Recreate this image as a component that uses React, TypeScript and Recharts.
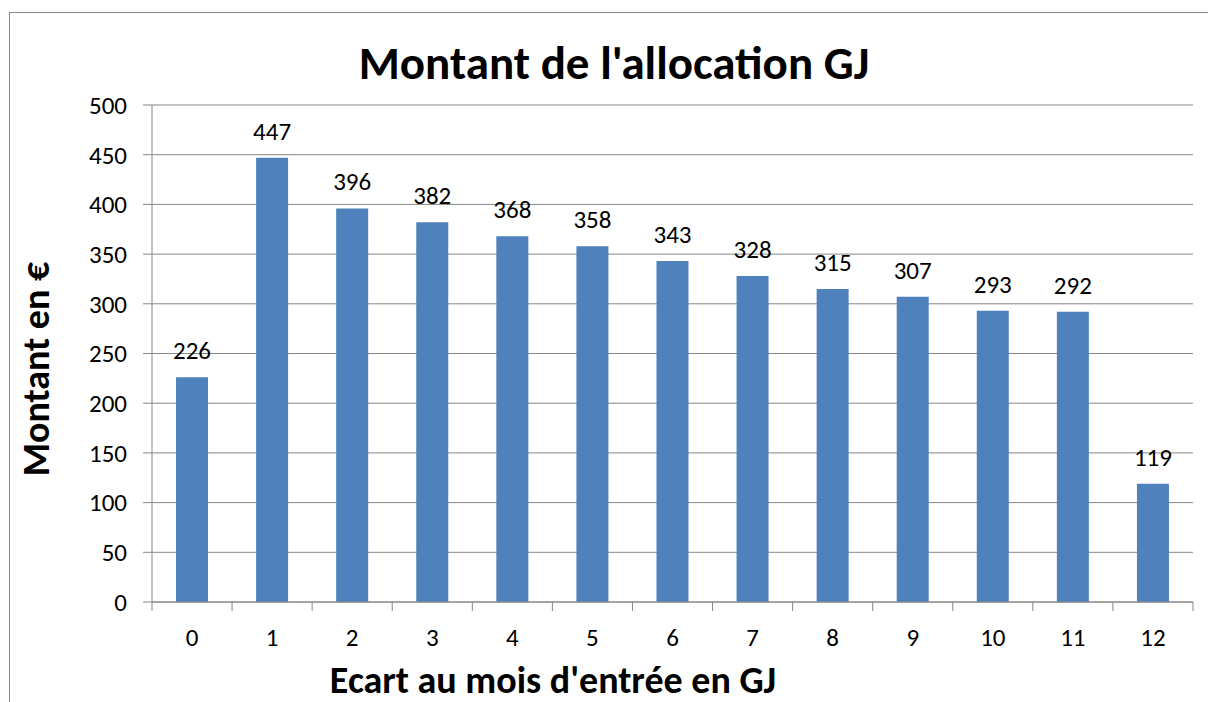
import React from "react"
import { Bar, BarChart, CartesianGrid, LabelList, XAxis, YAxis } from "recharts"

const months = ["0", "1", "2", "3", "4", "5", "6", "7", "8", "9", "10", "11", "12"]
const amounts = [226, 447, 396, 382, 368, 358, 343, 328, 315, 307, 293, 292, 119]
const yTicks = [0, 50, 100, 150, 200, 250, 300, 350, 400, 450, 500]

const data = months.map((m, i) => ({ month: m, amount: amounts[i] }))

const FONT = "Carlito, Lato, 'Open Sans', sans-serif"
const GREY = "#868686"
const BLUE = "#4F81BD"
const W = 1208
const H = 702
const MARGIN = { top: 105, right: 15, bottom: 0, left: 92 }
const Y_AXIS_W = 60
const X_TICK_MARGIN = 26

// label plus Excel-style tick marks between categories
const CategoryTick = (props: any) => {
  const { x, y, payload, index, width, visibleTicksCount } = props
  const plotW = typeof width === "number" && width > 0 ? width : W - MARGIN.left - MARGIN.right - Y_AXIS_W
  const count = visibleTicksCount || months.length
  const half = plotW / count / 2
  const axisY = y - X_TICK_MARGIN
  return (
    <g>
      <line x1={x - half} x2={x - half} y1={axisY} y2={axisY + 9} stroke={GREY} strokeWidth={1} />
      {index === count - 1 && (
        <line x1={x + half} x2={x + half} y1={axisY} y2={axisY + 9} stroke={GREY} strokeWidth={1} />
      )}
      <text x={x} y={y} dy="0.71em" textAnchor="middle" fill="#000" fontSize={25} fontFamily={FONT}>
        {payload.value}
      </text>
    </g>
  )
}

export default function App() {
  return (
    <div
      style={{
        position: "absolute",
        left: 0,
        top: 0,
        width: W,
        height: H,
        background: "#fff",
        fontFamily: FONT,
        overflow: "hidden",
      }}
    >
      <div
        style={{
          position: "absolute",
          left: 9,
          top: 12,
          width: 1300,
          height: 800,
          borderLeft: `1px solid ${GREY}`,
          borderTop: `1px solid ${GREY}`,
        }}
      />
      <BarChart
        width={W}
        height={H}
        data={data}
        margin={MARGIN}
        barCategoryGap="30%"
        style={{ position: "absolute", left: 0, top: 0 }}
      >
        <CartesianGrid vertical={false} stroke={GREY} strokeWidth={1} />
        <XAxis
          dataKey="month"
          tickLine={false}
          tickSize={0}
          tickMargin={X_TICK_MARGIN}
          axisLine={{ stroke: GREY }}
          tick={CategoryTick}
          height={100}
          interval={0}
        />
        <YAxis
          domain={[0, 500]}
          ticks={yTicks}
          width={Y_AXIS_W}
          tickSize={9}
          tickMargin={16}
          axisLine={{ stroke: GREY }}
          tickLine={{ stroke: GREY }}
          tick={{ fill: "#000", fontSize: 25, fontFamily: FONT }}
          interval={0}
        />
        <Bar dataKey="amount" fill={BLUE} isAnimationActive={false}>
          <LabelList dataKey="amount" position="top" offset={18} fill="#000" fontSize={25} fontFamily={FONT} />
        </Bar>
      </BarChart>
      <div
        style={{
          position: "absolute",
          left: 614,
          top: 63,
          transform: "translate(-50%, -50%)",
          fontSize: 47,
          fontWeight: 700,
          lineHeight: 1,
          whiteSpace: "nowrap",
          color: "#000",
        }}
      >
        Montant de l'allocation GJ
      </div>
      <div
        style={{
          position: "absolute",
          left: 36,
          top: 369,
          transform: "translate(-50%, -50%) rotate(-90deg)",
          fontSize: 38,
          fontWeight: 700,
          lineHeight: 1,
          whiteSpace: "nowrap",
          color: "#000",
        }}
      >
        Montant en €
      </div>
      <div
        style={{
          position: "absolute",
          left: 553,
          top: 681,
          transform: "translate(-50%, -50%)",
          fontSize: 38,
          fontWeight: 700,
          lineHeight: 1.1,
          whiteSpace: "nowrap",
          color: "#000",
        }}
      >
        Ecart au mois d'entrée en GJ
      </div>
    </div>
  )
}
